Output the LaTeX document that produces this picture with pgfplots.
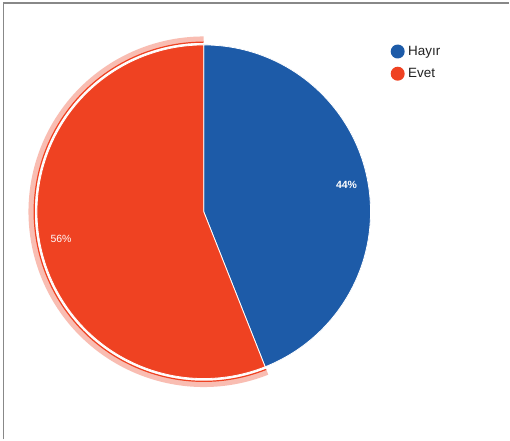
\documentclass[border=0pt]{standalone}
\usepackage{pgfplots}
\usepackage{pgfplotstable}
\pgfplotsset{compat=1.18}
\usepackage{fontspec}
\setmainfont{Liberation Sans}
\definecolor{hayir}{RGB}{29,91,168}
\definecolor{evet}{RGB}{239,66,34}
\definecolor{legtext}{RGB}{34,34,34}
\definecolor{frame}{RGB}{136,136,136}

\pgfplotstableread{
label value
Hayir 44
Evet 56
}\piedata

\begin{document}
\begin{tikzpicture}
\pgfplotstablegetelem{0}{value}\of\piedata \edef\va{\pgfplotsretval}
\pgfplotstablegetelem{1}{value}\of\piedata \edef\vb{\pgfplotsretval}
\pgfmathsetmacro{\tot}{\va+\vb}
\pgfmathsetmacro{\fA}{\va/\tot}
\pgfmathsetmacro{\fB}{\vb/\tot}
\pgfmathsetmacro{\aA}{90-360*\fA}
\pgfmathsetmacro{\aB}{\aA-360*\fB}
\pgfmathsetmacro{\mA}{90-180*\fA}
\pgfmathsetmacro{\mB}{\aA-180*\fB}
\pgfmathtruncatemacro{\pA}{round(100*\fA)}
\pgfmathtruncatemacro{\pB}{round(100*\fB)}
\begin{axis}[
  width=510bp, height=440bp, scale only axis,
  xmin=0, xmax=510, ymin=0, ymax=440,
  hide axis, clip=false,
  legend style={draw=none, fill=none, at={(rel axis cs:0.7608,0.9045)}, anchor=north west,
    font=\fontsize{13.5}{16}\selectfont, text=legtext, row sep=7.5bp,
    legend cell align=left},
  legend image code/.code={\fill[#1, draw=none] (0bp,0bp) circle (7bp);},
]
\fill[white] (axis cs:0,0) rectangle (axis cs:510,440);
\draw[frame, line width=1.3bp] (axis cs:3.5,0) -- (axis cs:3.5,437) -- (axis cs:510,437);
% highlight ring of the selected slice
\draw[evet!35, line width=6bp] (axis cs:204,228) ++(\aA:172.5bp) arc[start angle=\aA, end angle=\aB, radius=172.5bp];
\draw[evet, line width=1.2bp] (axis cs:204,228) ++(\aA:169.8bp) arc[start angle=\aA, end angle=\aB, radius=169.8bp];
% slices
\filldraw[fill=hayir, draw=white, line width=0.8bp] (axis cs:204,228) -- ++(90:167bp) arc[start angle=90, end angle=\aA, radius=167bp] -- cycle;
\filldraw[fill=evet, draw=white, line width=0.8bp] (axis cs:204,228) -- ++(\aA:167bp) arc[start angle=\aA, end angle=\aB, radius=167bp] -- cycle;
\path (axis cs:204,228) ++(\mA:145.5bp) node[text=white, font=\fontsize{10.5}{12}\selectfont\bfseries] {\pA\%};
\path (axis cs:204,228) ++(\mB:145.5bp) node[text=white, font=\fontsize{10.5}{12}\selectfont] {\pB\%};
\addlegendimage{fill=hayir}
\addlegendentry{\hspace{1.5bp}Hayır}
\addlegendimage{fill=evet}
\addlegendentry{\hspace{1.5bp}Evet}
\end{axis}
\end{tikzpicture}
\end{document}
